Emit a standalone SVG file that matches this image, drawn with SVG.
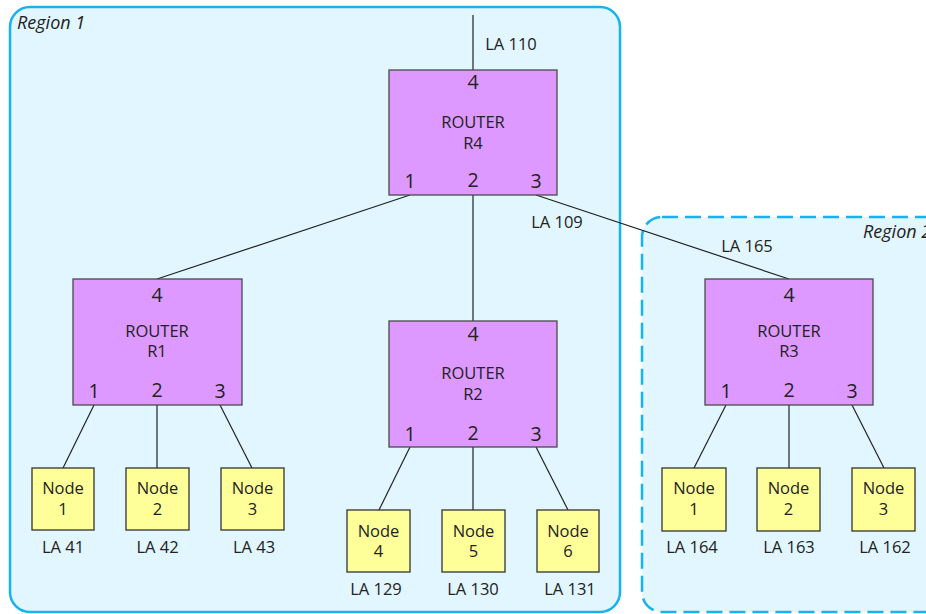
<svg xmlns="http://www.w3.org/2000/svg" width="926" height="614" viewBox="0 0 926 614">
  <style>
    text { font-family: "Open Sans", "Noto Sans", "DejaVu Sans", sans-serif; fill: #222; text-anchor: middle; }
    .lbl { font-size: 16.5px; }
    .num { font-size: 19.5px; }
    .reg { font-size: 18px; font-style: italic; text-anchor: start; }
    .router { fill: #dd99ff; stroke: #4a4a4a; stroke-width: 1.3; }
    .node { fill: #ffff99; stroke: #333; stroke-width: 1.3; }
    #connectors line { stroke: #222; stroke-width: 1.2; }
  </style>

  <!-- regions -->
  <g id="region1">
    <rect x="10" y="7" width="610" height="605" rx="20" fill="#e1f6fe" stroke="#19b2f0" stroke-width="2.5"/>
    <text class="reg" x="17" y="29">Region 1</text>
  </g>
  <g id="region2">
    <rect x="642" y="217" width="310" height="395" rx="20" fill="#e1f6fe" stroke="#19b2f0" stroke-width="2.5" stroke-dasharray="16 7"/>
    <text class="reg" x="863" y="238">Region 2</text>
  </g>

  <!-- connectors -->
  <g id="connectors">
    <line x1="473" y1="15" x2="473" y2="70"/>
    <line x1="410" y1="195" x2="157" y2="279"/>
    <line x1="473" y1="195" x2="473" y2="321"/>
    <line x1="536" y1="195" x2="789" y2="279"/>
    <line x1="94" y1="405" x2="63" y2="468"/>
    <line x1="157" y1="405" x2="157" y2="468"/>
    <line x1="220" y1="405" x2="252" y2="468"/>
    <line x1="410" y1="447" x2="379" y2="510"/>
    <line x1="473" y1="447" x2="473" y2="510"/>
    <line x1="536" y1="447" x2="568" y2="510"/>
    <line x1="726" y1="405" x2="694" y2="468"/>
    <line x1="789" y1="405" x2="789" y2="468"/>
    <line x1="852" y1="405" x2="884" y2="468"/>
  </g>

  <g id="link-labels">
    <text class="lbl" x="511" y="50">LA 110</text>
    <text class="lbl" x="557" y="228">LA 109</text>
    <text class="lbl" x="747" y="252">LA 165</text>
  </g>

  <!-- routers -->
  <g id="R4">
    <rect class="router" x="389" y="70" width="168" height="125"/>
    <text class="num" x="473" y="89">4</text>
    <text class="lbl" x="473" y="128">ROUTER</text>
    <text class="lbl" x="473" y="149">R4</text>
    <text class="num" x="410" y="188">1</text>
    <text class="num" x="473" y="187">2</text>
    <text class="num" x="536" y="188">3</text>
  </g>
  <g id="R1">
    <rect class="router" x="73" y="279" width="169" height="126"/>
    <text class="num" x="157" y="302">4</text>
    <text class="lbl" x="157" y="337">ROUTER</text>
    <text class="lbl" x="157" y="357">R1</text>
    <text class="num" x="94" y="398">1</text>
    <text class="num" x="157" y="397">2</text>
    <text class="num" x="220" y="398">3</text>
  </g>
  <g id="R2">
    <rect class="router" x="389" y="321" width="168" height="126"/>
    <text class="num" x="473" y="341">4</text>
    <text class="lbl" x="473" y="379">ROUTER</text>
    <text class="lbl" x="473" y="400">R2</text>
    <text class="num" x="410" y="441">1</text>
    <text class="num" x="473" y="440">2</text>
    <text class="num" x="536" y="441">3</text>
  </g>
  <g id="R3">
    <rect class="router" x="705" y="279" width="168" height="126"/>
    <text class="num" x="789" y="302">4</text>
    <text class="lbl" x="789" y="337">ROUTER</text>
    <text class="lbl" x="789" y="357">R3</text>
    <text class="num" x="726" y="398">1</text>
    <text class="num" x="789" y="397">2</text>
    <text class="num" x="852" y="398">3</text>
  </g>

  <!-- end nodes -->
  <g id="r1-node1">
    <rect class="node" x="32" y="468" width="62" height="62"/>
    <text class="lbl" x="63" y="494">Node</text>
    <text class="lbl" x="63" y="515">1</text>
    <text class="lbl" x="63" y="553">LA 41</text>
  </g>
  <g id="r1-node2">
    <rect class="node" x="126" y="468" width="63" height="62"/>
    <text class="lbl" x="157.5" y="494">Node</text>
    <text class="lbl" x="157.5" y="515">2</text>
    <text class="lbl" x="157.5" y="553">LA 42</text>
  </g>
  <g id="r1-node3">
    <rect class="node" x="221" y="468" width="63" height="62"/>
    <text class="lbl" x="252.5" y="494">Node</text>
    <text class="lbl" x="252.5" y="515">3</text>
    <text class="lbl" x="254" y="553">LA 43</text>
  </g>
  <g id="r2-node4">
    <rect class="node" x="347" y="510" width="63" height="62"/>
    <text class="lbl" x="378.5" y="537">Node</text>
    <text class="lbl" x="378.5" y="557">4</text>
    <text class="lbl" x="376" y="595">LA 129</text>
  </g>
  <g id="r2-node5">
    <rect class="node" x="442" y="510" width="63" height="62"/>
    <text class="lbl" x="473.5" y="537">Node</text>
    <text class="lbl" x="473.5" y="557">5</text>
    <text class="lbl" x="473" y="595">LA 130</text>
  </g>
  <g id="r2-node6">
    <rect class="node" x="537" y="510" width="62" height="62"/>
    <text class="lbl" x="568" y="537">Node</text>
    <text class="lbl" x="568" y="557">6</text>
    <text class="lbl" x="570" y="595">LA 131</text>
  </g>
  <g id="r3-node1">
    <rect class="node" x="662" y="468" width="64" height="63"/>
    <text class="lbl" x="694" y="494">Node</text>
    <text class="lbl" x="694" y="515">1</text>
    <text class="lbl" x="692" y="553">LA 164</text>
  </g>
  <g id="r3-node2">
    <rect class="node" x="757" y="468" width="63" height="63"/>
    <text class="lbl" x="788.5" y="494">Node</text>
    <text class="lbl" x="788.5" y="515">2</text>
    <text class="lbl" x="789" y="553">LA 163</text>
  </g>
  <g id="r3-node3">
    <rect class="node" x="852" y="468" width="63" height="63"/>
    <text class="lbl" x="883.5" y="494">Node</text>
    <text class="lbl" x="883.5" y="515">3</text>
    <text class="lbl" x="885" y="553">LA 162</text>
  </g>
</svg>
